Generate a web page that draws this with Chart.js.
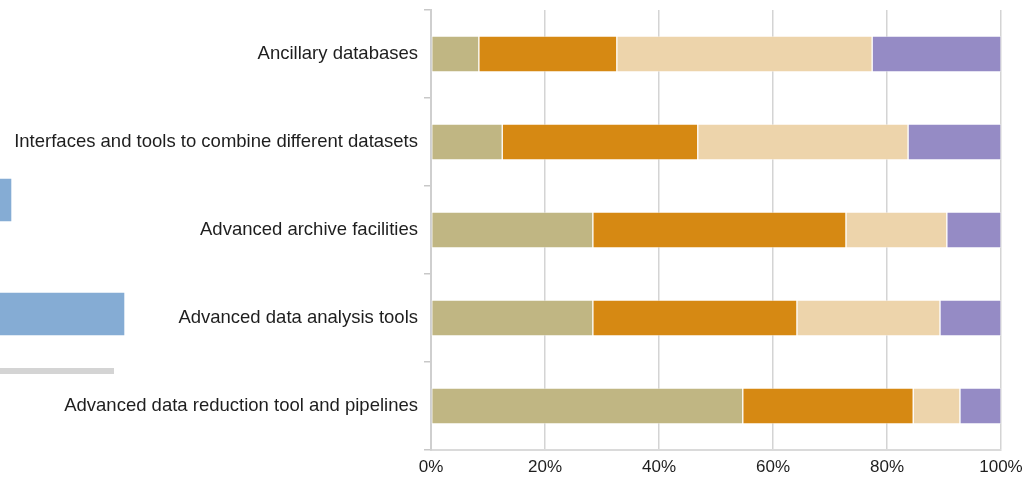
<!DOCTYPE html>
<html lang="en">
<head>
    <meta charset="UTF-8" />
    <title>Requested facilities</title>
    <script src="https://cdn.jsdelivr.net/npm/chart.js"></script>
    <style>
        body { margin: 0; background: #fff; }
        #wrap { position: relative; width: 1025px; height: 480px; }
        #mainChart { position: absolute; left: 0; top: 0; }
        #sideChart { position: absolute; left: 0; top: 0; }
    </style>
</head>
<body>
    <div id="wrap">
        <canvas id="mainChart" width="1025" height="480"></canvas>
        <canvas id="sideChart" width="140" height="480"></canvas>
    </div>

    <script>
        const facilities = [
            "Ancillary databases",
            "Interfaces and tools to combine different datasets",
            "Advanced archive facilities",
            "Advanced data analysis tools",
            "Advanced data reduction tool and pipelines"
        ];
        const essential  = [8.4, 12.5, 28.4, 28.4, 54.7];
        const important  = [24.2, 34.3, 44.4, 35.8, 29.9];
        const useful     = [44.8, 36.9, 17.7, 25.1, 8.2];
        const notNeeded  = [22.6, 16.3, 9.5, 10.7, 7.2];

        // neighbouring panel, only its right end shows
        const sideRows = ["", "", ""];
        const sideValues = [0, 10.6, 110.6];

        const fam = "'Liberation Sans', Arial, sans-serif";
        const labelFont = { family: fam, size: 18.5 };
        const tickFont = { family: fam, size: 17 };

        const ds = (label, data, color) => ({
            label: label,
            data: data,
            backgroundColor: color,
            borderColor: 'rgba(255,255,255,0.35)',
            borderWidth: 1,
            borderSkipped: false,
            barThickness: 36
        });

        new Chart(document.getElementById('mainChart'), {
            type: 'bar',
            data: {
                labels: facilities,
                datasets: [
                    ds('Essential', essential, '#c0b683'),
                    ds('Important', important, '#d68913'),
                    ds('Useful', useful, '#edd4ab'),
                    ds('Not needed', notNeeded, '#958bc5')
                ]
            },
            options: {
                indexAxis: 'y',
                responsive: false,
                animation: false,
                layout: { padding: { top: 10, right: 24, bottom: 0, left: 0 } },
                plugins: { legend: { display: false }, tooltip: { enabled: false } },
                scales: {
                    x: {
                        stacked: true,
                        min: 0,
                        max: 100,
                        afterFit: (scale) => {
                            scale.height = 30;
                            scale.paddingLeft = 0;
                            scale.paddingRight = 0;
                        },
                        ticks: {
                            stepSize: 20,
                            padding: 7,
                            color: '#1e1e1e',
                            font: tickFont,
                            callback: (v) => v + '%'
                        },
                        grid: { color: '#d4d4d4', lineWidth: 1.5, drawTicks: false },
                        border: { color: '#dadada', width: 2 }
                    },
                    y: {
                        stacked: true,
                        afterFit: (scale) => {
                            scale.width = 431;
                            scale.paddingTop = 0;
                            scale.paddingBottom = 0;
                        },
                        ticks: { padding: 6, color: '#1e1e1e', font: labelFont },
                        grid: {
                            offset: true,
                            drawOnChartArea: false,
                            tickLength: 7,
                            color: '#c8c8c8',
                            lineWidth: 1.5
                        },
                        border: { color: '#cfcfcf', width: 2 }
                    }
                }
            }
        });

        new Chart(document.getElementById('sideChart'), {
            type: 'bar',
            data: {
                labels: sideRows,
                datasets: [{
                    data: sideValues,
                    backgroundColor: '#85acd4',
                    borderColor: 'rgba(255,255,255,0.4)',
                    borderWidth: 1,
                    barThickness: 44,
                    clip: false
                }]
            },
            options: {
                indexAxis: 'y',
                responsive: false,
                animation: false,
                layout: { padding: { top: 29, right: 27, bottom: 109, left: 0 } },
                plugins: { legend: { display: false }, tooltip: { enabled: false } },
                scales: {
                    x: {
                        min: 0,
                        max: 100,
                        afterFit: (scale) => { scale.height = 0; },
                        ticks: { display: false },
                        grid: { display: false },
                        border: { color: '#d4d4d4', width: 6 }
                    },
                    y: {
                        display: false
                    }
                }
            }
        });
    </script>
</body>
</html>
